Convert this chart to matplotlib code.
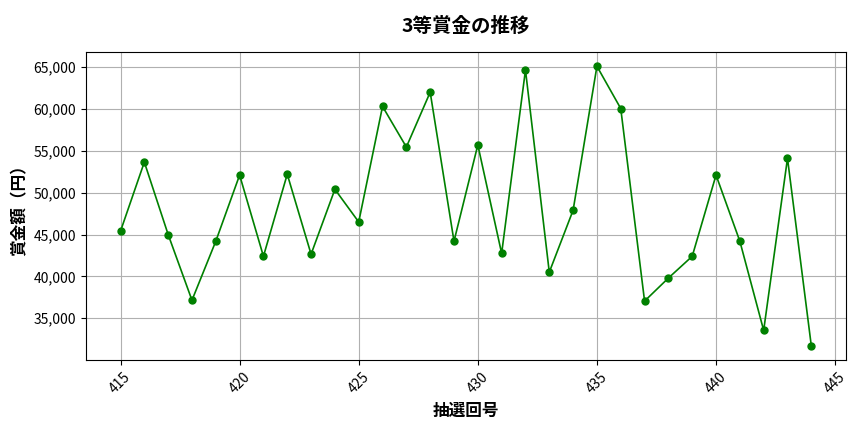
import matplotlib
matplotlib.use('Agg')
import matplotlib.pyplot as plt
from matplotlib.ticker import FuncFormatter

plt.rcParams['font.family'] = ['Noto Sans CJK JP', 'DejaVu Sans']

# 抽選回と3等賞金（円）
draws = list(range(415, 445))
prizes = [45400, 53650, 45000, 37150, 44200, 52100, 42400, 52200, 42650, 50400,
          46500, 60300, 55450, 62000, 44200, 55700, 42750, 64650, 40500, 47900,
          65100, 60050, 37050, 39800, 42400, 52100, 44200, 33550, 54100, 31700]

fig, ax = plt.subplots(figsize=(8.64, 4.32), dpi=100)
ax.plot(draws, prizes, marker='o', color='green', markersize=5, linewidth=1.2)
ax.set_title('3等賞金の推移', fontsize=14, fontweight='bold', pad=15)
ax.set_xlabel('抽選回号', fontsize=12, fontweight='bold')
ax.set_ylabel('賞金額（円）', fontsize=12, fontweight='bold')
ax.yaxis.set_major_formatter(FuncFormatter(lambda v, p: f'{int(v):,}'))
plt.setp(ax.get_xticklabels(), rotation=45)
ax.grid(True)
fig.subplots_adjust(left=0.0995, right=0.979, top=0.879, bottom=0.167)
fig.savefig('out.png')
